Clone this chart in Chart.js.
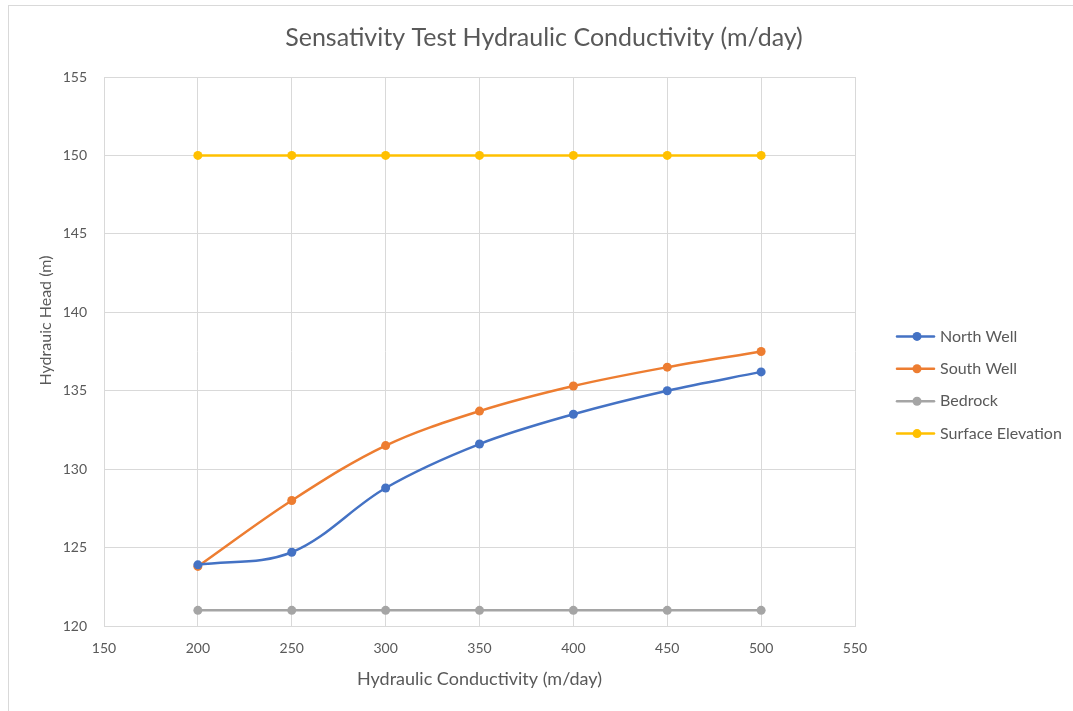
<!DOCTYPE html>
<html>
<head>
<meta charset="utf-8">
<script src="https://cdn.jsdelivr.net/npm/chart.js@4"></script>
<style>
html,body{margin:0;padding:0;background:#fff;}
#wrap{position:absolute;left:8px;top:5px;width:1065px;height:706px;border-left:1px solid #d9d9d9;border-top:1px solid #d9d9d9;box-sizing:border-box;}
#c{display:block;}
</style>
</head>
<body>
<div id="wrap"><canvas id="c" width="1064" height="705"></canvas></div>
<script>
const xValues = [200, 250, 300, 350, 400, 450, 500];
const northWell = [123.9, 124.7, 128.8, 131.6, 133.5, 135.0, 136.2];
const southWell = [123.8, 128.0, 131.5, 133.7, 135.3, 136.5, 137.5];
const bedrock = [121.0, 121.0, 121.0, 121.0, 121.0, 121.0, 121.0];
const surfaceElevation = [150, 150, 150, 150, 150, 150, 150];
const seriesNames = ['North Well', 'South Well', 'Bedrock', 'Surface Elevation'];
const seriesColors = ['#4472c4', '#ed7d31', '#a5a5a5', '#ffc000'];
const seriesValues = [northWell, southWell, bedrock, surfaceElevation];
const yAxisTitle = 'Hydrauic Head (m)';

const FONT = "Lato, sans-serif";
const TEXT_COLOR = '#595959';

const datasets = seriesNames.map((name, i) => ({
  label: name,
  data: xValues.map((x, j) => ({x: x, y: seriesValues[i][j]})),
  borderColor: seriesColors[i],
  backgroundColor: seriesColors[i],
  borderWidth: 2.5,
  pointRadius: 4.5,
  pointHoverRadius: 4.5,
  pointBorderWidth: 0,
  tension: 0.35,
  cubicInterpolationMode: 'default',
  fill: false,
  yAxisID: 'y'
}));

// Excel-style legend (line + marker) to the right of the plot, and the y-axis title
const sideLegend = {
  id: 'sideLegend',
  afterDraw(chart) {
    const ctx = chart.ctx;
    const area = chart.chartArea;
    const x0 = area.right + 42;
    const spacing = 32.4;
    const n = chart.data.datasets.length;
    const cy = 379;
    ctx.save();
    ctx.font = '16px ' + FONT;
    ctx.textBaseline = 'middle';
    ctx.textAlign = 'left';
    chart.data.datasets.forEach((ds, i) => {
      const y = cy + (i - (n - 1) / 2) * spacing;
      ctx.strokeStyle = ds.borderColor;
      ctx.lineWidth = 2.5;
      ctx.lineCap = 'round';
      ctx.beginPath(); ctx.moveTo(x0, y); ctx.lineTo(x0 + 37, y); ctx.stroke();
      ctx.fillStyle = ds.borderColor;
      ctx.beginPath(); ctx.arc(x0 + 20, y, 4.5, 0, Math.PI * 2); ctx.fill();
      ctx.fillStyle = TEXT_COLOR;
      ctx.fillText(ds.label, x0 + 43, y);
    });
    // y-axis title
    ctx.translate(area.left - 58, (area.top + area.bottom) / 2 - 31);
    ctx.rotate(-Math.PI / 2);
    ctx.textAlign = 'center';
    ctx.font = '16px ' + FONT;
    ctx.fillText(yAxisTitle, 0, 0);
    ctx.restore();
  }
};

new Chart(document.getElementById('c'), {
  type: 'line',
  data: { datasets: datasets },
  plugins: [sideLegend],
  options: {
    responsive: false,
    animation: false,
    devicePixelRatio: 1,
    layout: { padding: { left: 27, right: 21, top: 14, bottom: 17 } },
    plugins: {
      title: {
        display: true,
        text: 'Sensativity Test Hydraulic Conductivity (m/day)',
        color: TEXT_COLOR,
        font: { family: FONT, size: 25, weight: 'normal' },
        padding: { top: 3, bottom: 24 }
      },
      legend: { display: false },
      tooltip: { enabled: false }
    },
    scales: {
      x: {
        type: 'linear',
        min: 150, max: 550,
        ticks: { stepSize: 50, color: TEXT_COLOR, font: { family: FONT, size: 14 }, padding: 14 },
        grid: { color: '#d9d9d9', lineWidth: 1, drawTicks: false, tickLength: 0 },
        border: { color: '#d9d9d9' },
        title: { display: true, text: 'Hydraulic Conductivity (m/day)', color: TEXT_COLOR, font: { family: FONT, size: 18 }, padding: { top: 4, bottom: 4 } },
        afterFit: (s) => { s.height = 68; }
      },
      y: {
        min: 120, max: 155,
        ticks: { stepSize: 5, color: TEXT_COLOR, font: { family: FONT, size: 14 }, padding: 17 },
        grid: { color: '#d9d9d9', lineWidth: 1, drawTicks: false, tickLength: 0 },
        border: { color: '#d9d9d9' },
        title: { display: false },
        afterFit: (s) => { s.width = 68; }
      },
      legendSpace: {
        position: 'right',
        display: true,
        min: 0, max: 1,
        grid: { display: false, drawTicks: false },
        ticks: { display: false },
        border: { display: false },
        afterFit: (s) => { s.width = 197; }
      }
    }
  }
});
</script>
</body>
</html>
